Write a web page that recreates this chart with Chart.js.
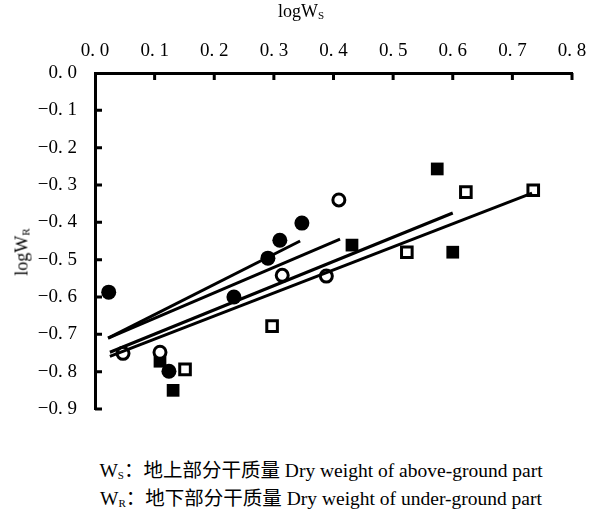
<!DOCTYPE html>
<html lang="zh">
<head>
  <meta charset="UTF-8">
  <title>logWR vs logWS</title>
  <script src="https://cdn.jsdelivr.net/npm/chart.js"></script>
  <style>
    body { margin: 0; background: #fff; }
    .wrap { position: relative; width: 602px; height: 509px; font-family: "Liberation Serif", "Noto Sans CJK SC", serif; color: #000; }
    #chart { position: absolute; left: 0; top: 0; }
    .xtitle { position: absolute; left: 0; width: 602px; top: 1px; text-align: center; font-size: 18px; }
    .ytitle { position: absolute; left: 22px; top: 252px; font-size: 18px; transform: translate(-50%, -50%) rotate(-90deg); white-space: nowrap; }
    sub { font-size: 11px; vertical-align: -2px; }
    .note { position: absolute; left: 20px; width: 602px; top: 459px; text-align: center; font-size: 19.5px; line-height: 23px; }
  </style>
</head>
<body>
<div class="wrap">
  <canvas id="chart" width="602" height="440"></canvas>
  <div class="xtitle">logW<sub>S</sub></div>
  <div class="ytitle">logW<sub>R</sub></div>
  <div class="note">
    W<sub>S</sub>：地上部分干质量 Dry weight of above-ground part<br>
    W<sub>R</sub>：地下部分干质量 Dry weight of under-ground part
  </div>
</div>

<script>
  // values
  const filledCircleX = [0.023, 0.124, 0.233, 0.290, 0.310, 0.347];
  const filledCircleY = [-0.587, -0.799, -0.600, -0.496, -0.448, -0.402];
  const openCircleX = [0.047, 0.109, 0.314, 0.388, 0.409];
  const openCircleY = [-0.751, -0.748, -0.542, -0.544, -0.340];
  const filledSquareX = [0.109, 0.131, 0.431, 0.574, 0.600];
  const filledSquareY = [-0.772, -0.850, -0.461, -0.257, -0.480];
  const openSquareX = [0.151, 0.297, 0.523, 0.622, 0.735];
  const openSquareY = [-0.794, -0.678, -0.480, -0.319, -0.314];

  // regression line end points
  const lineAX = [0.022, 0.344], lineAY = [-0.710, -0.450];
  const lineBX = [0.022, 0.411], lineBY = [-0.710, -0.445];
  const lineCX = [0.025, 0.600], lineCY = [-0.748, -0.375];
  const lineDX = [0.025, 0.733], lineDY = [-0.759, -0.322];

  const xTicks = [0, 0.1, 0.2, 0.3, 0.4, 0.5, 0.6, 0.7, 0.8];
  const yTicks = [0, -0.1, -0.2, -0.3, -0.4, -0.5, -0.6, -0.7, -0.8, -0.9];

  const pts = (xs, ys) => xs.map((x, i) => ({ x: x, y: ys[i] }));
  const fmt = v => {
    const s = Math.abs(v).toFixed(1).replace('.', '. ');
    return v < 0 ? '−' + s : s;
  };

  function scatter(xs, ys, style, filled, r) {
    return {
      type: 'scatter',
      data: pts(xs, ys),
      pointStyle: style,
      pointRadius: r,
      pointHoverRadius: r,
      backgroundColor: filled ? '#000' : '#fff',
      borderColor: '#000',
      borderWidth: filled ? 0 : 3
    };
  }
  function line(xs, ys) {
    return {
      type: 'line',
      data: pts(xs, ys),
      borderColor: '#000',
      borderWidth: 3,
      pointRadius: 0,
      fill: false
    };
  }

  // inner tick marks on top and left axes
  const innerTicks = {
    id: 'innerTicks',
    afterDatasetsDraw(chart) {
      const ctx = chart.ctx, x = chart.scales.x, y = chart.scales.y;
      const a = chart.chartArea;
      ctx.save();
      ctx.strokeStyle = '#000';
      ctx.lineWidth = 3;
      ctx.beginPath();
      xTicks.forEach(v => {
        if (v === 0) return;
        const px = x.getPixelForValue(v);
        ctx.moveTo(px, a.top);
        ctx.lineTo(px, a.top + 7);
      });
      yTicks.forEach(v => {
        if (v === 0) return;
        const py = y.getPixelForValue(v);
        ctx.moveTo(a.left, py);
        ctx.lineTo(a.left + 7, py);
      });
      ctx.stroke();
      ctx.restore();
    }
  };

  new Chart(document.getElementById('chart'), {
    data: {
      datasets: [
        line(lineAX, lineAY),
        line(lineBX, lineBY),
        line(lineCX, lineCY),
        line(lineDX, lineDY),
        scatter(filledCircleX, filledCircleY, 'circle', true, 7.5),
        scatter(openCircleX, openCircleY, 'circle', false, 6),
        scatter(filledSquareX, filledSquareY, 'rect', true, 9),
        scatter(openSquareX, openSquareY, 'rect', false, 7.5)
      ]
    },
    options: {
      responsive: false,
      animation: false,
      layout: { padding: { left: 0, right: 30, top: 0, bottom: 31 } },
      plugins: { legend: { display: false }, tooltip: { enabled: false } },
      scales: {
        x: {
          type: 'linear',
          position: 'top',
          min: 0, max: 0.8,
          afterBuildTicks: s => { s.ticks = xTicks.map(v => ({ value: v })); },
          afterFit: s => { s.height = 73; },
          ticks: { callback: fmt, color: '#000', font: { family: 'Liberation Serif', size: 19 }, padding: 3, maxRotation: 0 },
          grid: { display: false },
          border: { color: '#000', width: 3 }
        },
        y: {
          type: 'linear',
          min: -0.9, max: 0,
          afterBuildTicks: s => { s.ticks = yTicks.map(v => ({ value: v })); },
          afterFit: s => { s.width = 95; },
          ticks: { callback: fmt, color: '#000', font: { family: 'Liberation Serif', size: 19 }, padding: 10 },
          grid: { display: false },
          border: { color: '#000', width: 3 }
        }
      }
    },
    plugins: [innerTicks]
  });
</script>
</body>
</html>
